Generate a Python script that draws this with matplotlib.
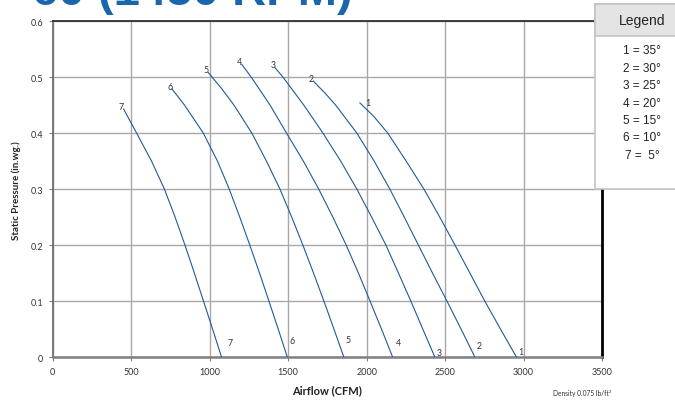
import matplotlib.pyplot as plt
from matplotlib.patches import Rectangle

# fan curves (airflow CFM, static pressure in.wg.)
c1_cfm = [1957, 2045, 2135, 2252, 2365, 2466, 2563, 2658, 2753, 2853, 2955]
c1_sp = [0.454, 0.43, 0.40, 0.35, 0.30, 0.25, 0.20, 0.15, 0.10, 0.05, 0.0]
c2_cfm = [1660, 1740, 1803, 1938, 2048, 2148, 2240, 2330, 2420, 2512, 2602, 2690]
c2_sp = [0.493, 0.47, 0.45, 0.40, 0.35, 0.30, 0.25, 0.20, 0.15, 0.10, 0.05, 0.0]
c3_cfm = [1416, 1467, 1600, 1722, 1835, 1938, 2032, 2123, 2203, 2282, 2358, 2435]
c3_sp = [0.517, 0.50, 0.45, 0.40, 0.35, 0.30, 0.25, 0.20, 0.15, 0.10, 0.05, 0.0]
c4_cfm = [1204, 1265, 1385, 1490, 1597, 1695, 1785, 1870, 1948, 2022, 2095, 2166]
c4_sp = [0.523, 0.50, 0.45, 0.40, 0.35, 0.30, 0.25, 0.20, 0.15, 0.10, 0.05, 0.0]
c5_cfm = [992, 1075, 1155, 1269, 1362, 1448, 1523, 1594, 1662, 1728, 1792, 1855]
c5_sp = [0.508, 0.48, 0.45, 0.40, 0.35, 0.30, 0.25, 0.20, 0.15, 0.10, 0.05, 0.0]
c6_cfm = [760, 840, 960, 1050, 1125, 1192, 1256, 1318, 1378, 1437, 1495]
c6_sp = [0.479, 0.45, 0.40, 0.35, 0.30, 0.25, 0.20, 0.15, 0.10, 0.05, 0.0]
c7_cfm = [452, 535, 630, 712, 780, 843, 903, 961, 1019, 1076]
c7_sp = [0.443, 0.40, 0.35, 0.30, 0.25, 0.20, 0.15, 0.10, 0.05, 0.0]

curve_ids = ['1', '2', '3', '4', '5', '6', '7']
end_label_cfm = [2981, 2717, 2460, 2201, 1883, 1526, 1130]
end_label_sp = [0.011, 0.021, 0.008, 0.026, 0.031, 0.030, 0.026]

legend_entries = ['1 = 35°', '2 = 30°', '3 = 25°', '4 = 20°', '5 = 15°', '6 = 10°', '7 =  5°']
x_ticks = [0, 500, 1000, 1500, 2000, 2500, 3000, 3500]
y_ticks = [0, 0.1, 0.2, 0.3, 0.4, 0.5, 0.6]
y_ticklabels = ['0', '0.1', '0.2', '0.3', '0.4', '0.5', '0.6']

curves = [(c1_cfm, c1_sp), (c2_cfm, c2_sp), (c3_cfm, c3_sp), (c4_cfm, c4_sp),
          (c5_cfm, c5_sp), (c6_cfm, c6_sp), (c7_cfm, c7_sp)]

plt.rcParams['font.family'] = ['Lato', 'DejaVu Sans']
line_col = '#1f5b98'

fig = plt.figure(figsize=(6.75, 4.02), dpi=100)
ax = fig.add_axes([0.078, 0.109, 0.814, 0.836])

for (cfm, sp), cid, lx, ly in zip(curves, curve_ids, end_label_cfm, end_label_sp):
    ax.plot(cfm, sp, color=line_col, linewidth=0.8, zorder=3, solid_joinstyle='round')
    # number at top start of each curve
    if cid == '1':
        ax.annotate(cid, (cfm[0], sp[0]), xytext=(6, 0), textcoords='offset points',
                    fontsize=6.3, color='#333333', ha='center', va='center')
    else:
        ax.annotate(cid, (cfm[0], sp[0]), xytext=(-1.5, 2), textcoords='offset points',
                    fontsize=6.3, color='#333333', ha='center', va='center')
    ax.text(lx, ly, cid, fontsize=6.3, color='#333333', ha='center', va='center')

ax.set_xlim(0, 3500)
ax.set_ylim(0, 0.6)
ax.set_xticks(x_ticks)
ax.set_xticklabels([str(t) for t in x_ticks])
ax.set_yticks(y_ticks)
ax.set_yticklabels(y_ticklabels)
ax.tick_params(labelsize=6.5, length=3, width=0.8, color='#808080', labelcolor='#333333', pad=4)
ax.grid(True, color='#a8a8a8', linewidth=1.0)
ax.set_axisbelow(True)

ax.spines['left'].set_color('#707070')
ax.spines['left'].set_linewidth(1.3)
ax.spines['bottom'].set_color('#808080')
ax.spines['bottom'].set_linewidth(1.8)
ax.spines['top'].set_color('#303030')
ax.spines['top'].set_linewidth(1.3)
ax.spines['right'].set_color('#000000')
ax.spines['right'].set_linewidth(2.0)

ax.set_xlabel('Airflow (CFM)', fontsize=8, fontweight='bold', color='#222222', labelpad=6)
ax.set_ylabel('Static Pressure (in.wg.)', fontsize=7, fontweight='bold', color='#222222', labelpad=7)

fig.text(0.905, 0.014, 'Density 0.075 lb/ft³', fontsize=4.8, color='#333333', ha='right')

# cut-off title at the top
fig.text(0.047, 0.987, '60 (1450 RPM)', fontsize=34, fontweight='bold', color='#1a66ad',
         family='Liberation Sans', ha='left', va='baseline')

# legend box
fig.add_artist(Rectangle((0.8815, 0.5274), 0.2, 0.4602, transform=fig.transFigure,
                         facecolor='white', edgecolor='#c4c4c4', linewidth=1.2, zorder=5))
fig.add_artist(Rectangle((0.8815, 0.908), 0.2, 0.0796, transform=fig.transFigure,
                         facecolor='#e4e4e4', edgecolor='#c4c4c4', linewidth=1.2, zorder=5))
fig.text(0.951, 0.948, 'Legend', fontsize=10, color='#222222', ha='center', va='center',
         family='Liberation Sans', zorder=6)
for i, entry in enumerate(legend_entries):
    fig.text(0.951, 0.872 - i * 0.0433, entry, fontsize=8.5, color='#222222', ha='center',
             va='center', family='Liberation Sans', zorder=6)

plt.savefig('out.png', dpi=100)
